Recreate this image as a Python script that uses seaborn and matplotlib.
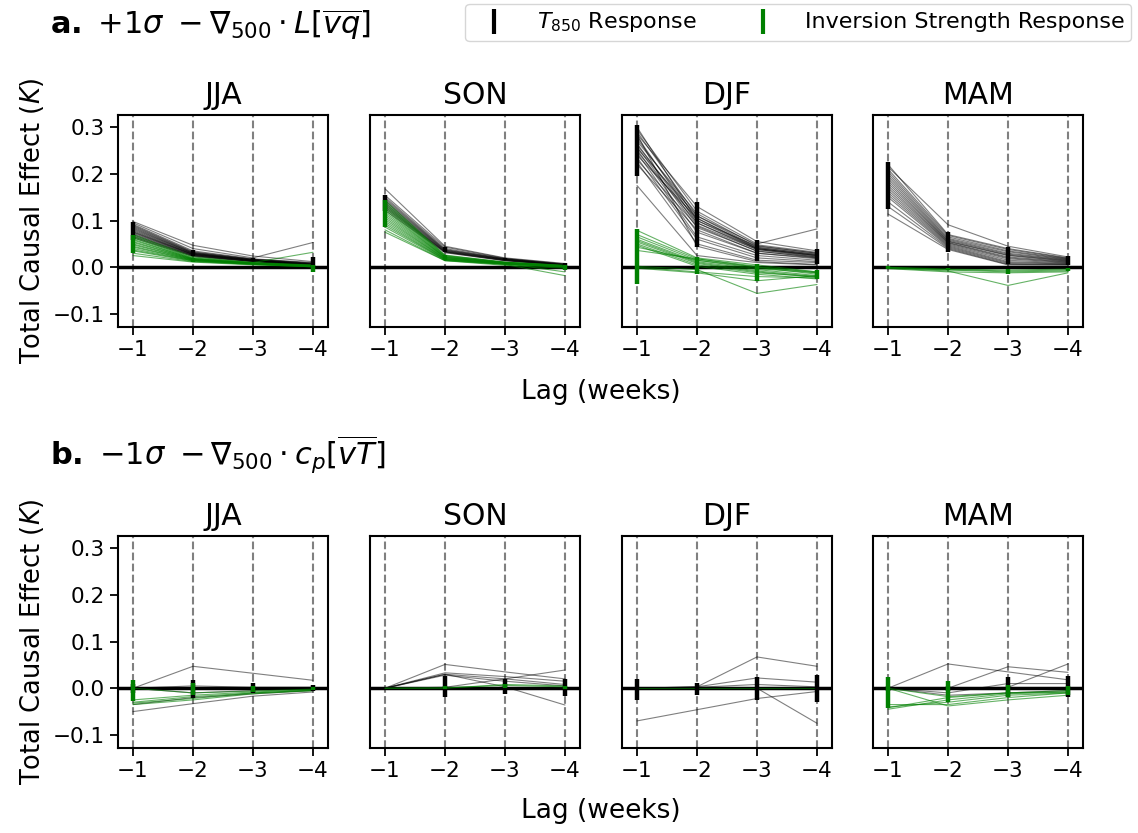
import pandas as pd
import matplotlib
matplotlib.use("Agg")
import matplotlib.pyplot as plt
from matplotlib.lines import Line2D
import seaborn as sns

lags = [-1, -2, -3, -4]
seasons = ["JJA", "SON", "DJF", "MAM"]

# ---- row a: +1 sigma moisture flux convergence ----
a_jja_t850 = [
    [0.098, 0.047, 0.024, 0.012], [0.095, 0.040, 0.020, 0.053],
    [0.092, 0.035, 0.018, 0.010], [0.090, 0.033, 0.017, 0.008],
    [0.088, 0.032, 0.017, 0.009], [0.086, 0.031, 0.016, 0.007],
    [0.084, 0.030, 0.016, 0.008], [0.082, 0.030, 0.015, 0.006],
    [0.080, 0.029, 0.015, 0.007], [0.078, 0.028, 0.015, 0.006],
    [0.076, 0.028, 0.014, 0.005], [0.075, 0.027, 0.014, 0.006],
    [0.073, 0.027, 0.014, 0.005], [0.071, 0.026, 0.013, 0.005],
    [0.069, 0.025, 0.013, 0.004], [0.067, 0.025, 0.012, 0.005],
    [0.065, 0.024, 0.012, 0.004], [0.063, 0.023, 0.012, 0.003],
]
a_jja_inv = [
    [0.070, 0.022, 0.010, 0.032], [0.066, 0.020, 0.010, 0.005],
    [0.063, 0.019, 0.009, 0.004], [0.060, 0.018, 0.009, 0.004],
    [0.058, 0.018, 0.009, 0.003], [0.055, 0.017, 0.008, 0.004],
    [0.053, 0.017, 0.008, 0.003], [0.050, 0.016, 0.008, 0.003],
    [0.048, 0.016, 0.008, 0.002], [0.045, 0.015, 0.007, 0.003],
    [0.043, 0.015, 0.007, 0.002], [0.040, 0.014, 0.007, 0.002],
    [0.037, 0.014, 0.007, 0.002], [0.035, 0.013, 0.006, 0.001],
    [0.030, 0.012, 0.006, 0.001], [0.025, 0.011, 0.005, 0.001],
]
a_jja_t850_err = ([0.058, 0.025, 0.013, 0.000], [0.097, 0.036, 0.020, 0.022])
a_jja_inv_err = ([0.030, 0.012, 0.006, -0.010], [0.070, 0.020, 0.009, 0.005])

a_son_t850 = [
    [0.168, 0.045, 0.020, 0.008], [0.154, 0.043, 0.019, 0.007],
    [0.150, 0.040, 0.018, 0.006], [0.147, 0.038, 0.018, 0.006],
    [0.144, 0.037, 0.017, 0.005], [0.141, 0.036, 0.017, 0.006],
    [0.138, 0.035, 0.016, 0.005], [0.135, 0.034, 0.016, 0.004],
    [0.132, 0.033, 0.015, 0.005], [0.129, 0.033, 0.015, 0.004],
    [0.126, 0.032, 0.014, 0.004], [0.122, 0.031, 0.014, 0.003],
]
a_son_inv = [
    [0.143, 0.026, 0.011, 0.004], [0.138, 0.025, 0.011, 0.003],
    [0.134, 0.024, 0.010, 0.004], [0.130, 0.023, 0.010, 0.003],
    [0.126, 0.022, 0.010, 0.002], [0.122, 0.021, 0.009, 0.003],
    [0.118, 0.021, 0.009, 0.002], [0.114, 0.020, 0.009, 0.002],
    [0.110, 0.019, 0.008, 0.001], [0.106, 0.018, 0.008, -0.010],
    [0.102, 0.018, 0.008, 0.002], [0.098, 0.017, 0.007, 0.001],
    [0.094, 0.016, 0.007, 0.000], [0.090, 0.016, 0.007, 0.001],
    [0.086, 0.015, 0.006, 0.000], [0.080, 0.014, 0.006, -0.018],
    [0.075, 0.014, 0.004, -0.002],
]
a_son_t850_err = ([0.120, 0.032, 0.016, 0.003], [0.154, 0.044, 0.020, 0.008])
a_son_inv_err = ([0.086, 0.015, 0.007, -0.005], [0.143, 0.026, 0.011, 0.005])

a_djf_t850 = [
    [0.300, 0.100, 0.045, 0.030], [0.295, 0.120, 0.050, 0.082],
    [0.290, 0.110, 0.048, 0.032], [0.285, 0.130, 0.055, 0.035],
    [0.280, 0.095, 0.040, 0.025], [0.275, 0.105, 0.042, 0.028],
    [0.270, 0.115, 0.046, 0.030], [0.265, 0.090, 0.038, 0.022],
    [0.262, 0.100, 0.040, 0.025], [0.258, 0.085, 0.035, 0.020],
    [0.255, 0.110, 0.043, 0.027], [0.252, 0.075, 0.030, 0.018],
    [0.248, 0.095, 0.038, 0.024], [0.245, 0.065, 0.025, 0.015],
    [0.240, 0.105, 0.040, 0.026], [0.235, 0.060, 0.020, 0.012],
    [0.230, 0.088, 0.034, 0.022], [0.225, 0.050, 0.015, 0.010],
    [0.220, 0.080, 0.030, 0.020], [0.175, 0.025, 0.010, 0.005],
    [0.285, 0.045, 0.012, 0.006],
]
a_djf_inv = [
    [0.079, 0.020, 0.005, -0.010], [0.070, 0.018, 0.002, -0.012],
    [0.065, 0.015, 0.000, -0.015], [0.060, 0.012, -0.005, -0.018],
    [0.057, 0.010, -0.008, -0.020], [0.054, 0.008, -0.010, -0.022],
    [0.050, 0.005, -0.012, -0.020], [0.047, 0.002, -0.015, -0.025],
    [0.043, 0.015, -0.003, -0.012], [0.036, 0.018, 0.000, -0.010],
    [0.002, -0.005, -0.056, -0.037], [0.000, -0.010, -0.020, -0.023],
    [-0.002, -0.012, -0.029, -0.018],
]
a_djf_t850_err = ([0.196, 0.043, 0.014, 0.007], [0.304, 0.139, 0.059, 0.039])
a_djf_inv_err = ([-0.036, -0.014, -0.029, -0.025], [0.082, 0.021, 0.007, -0.007])

a_mam_t850 = [
    [0.220, 0.070, 0.040, 0.020], [0.215, 0.091, 0.045, 0.022],
    [0.210, 0.068, 0.038, 0.019], [0.205, 0.065, 0.035, 0.018],
    [0.200, 0.062, 0.033, 0.017], [0.195, 0.060, 0.030, 0.016],
    [0.190, 0.058, 0.028, 0.015], [0.185, 0.056, 0.026, 0.014],
    [0.180, 0.055, 0.025, 0.013], [0.175, 0.053, 0.022, 0.012],
    [0.170, 0.052, 0.020, 0.011], [0.165, 0.050, 0.018, 0.010],
    [0.160, 0.048, 0.015, 0.009], [0.155, 0.046, 0.012, 0.008],
    [0.150, 0.044, 0.010, 0.007], [0.140, 0.042, 0.008, 0.006],
    [0.130, 0.040, 0.006, 0.005], [0.114, 0.038, 0.005, 0.005],
]
a_mam_inv = [
    [-0.001, -0.005, -0.008, -0.006], [-0.002, -0.008, -0.039, -0.012],
    [-0.001, -0.006, -0.010, -0.008], [-0.003, -0.010, -0.012, -0.010],
    [0.000, -0.004, -0.006, -0.004],
]
a_mam_t850_err = ([0.125, 0.032, 0.007, 0.004], [0.225, 0.075, 0.043, 0.023])
a_mam_inv_err = ([-0.004, -0.006, -0.014, -0.008], [0.002, -0.002, -0.004, -0.002])

# ---- row b: -1 sigma heat flux convergence ----
b_jja_t850 = [
    [0.000, 0.047, 0.032, 0.017], [-0.050, -0.033, -0.017, -0.008],
    [0.000, -0.010, -0.005, 0.000], [-0.035, -0.020, -0.012, -0.005],
    [0.000, 0.005, 0.002, 0.002],
]
b_jja_inv = [
    [-0.035, -0.025, -0.012, -0.005], [-0.032, -0.022, -0.010, -0.004],
    [-0.030, -0.018, -0.010, -0.005], [-0.025, -0.015, -0.008, -0.003],
    [0.000, -0.010, -0.006, -0.002],
]
b_jja_t850_err = ([-0.010, -0.021, -0.011, -0.005], [0.010, 0.018, 0.011, 0.006])
b_jja_inv_err = ([-0.028, -0.014, -0.008, -0.004], [0.017, 0.011, 0.004, 0.002])

b_son_t850 = [
    [0.000, 0.051, 0.035, 0.020], [0.000, 0.033, 0.025, 0.015],
    [0.000, 0.030, 0.020, 0.008], [0.000, 0.002, 0.020, 0.039],
    [0.000, 0.030, 0.003, -0.036], [0.000, 0.028, 0.015, 0.005],
]
b_son_inv = [[0.000, 0.000, 0.008, 0.005], [0.000, 0.001, 0.006, 0.003]]
b_son_t850_err = ([0.000, -0.019, -0.012, -0.016], [0.000, 0.026, 0.019, 0.019])
b_son_inv_err = ([0.000, -0.002, 0.000, -0.001], [0.000, 0.004, 0.008, 0.005])

b_djf_t850 = [
    [-0.070, -0.046, -0.022, -0.007], [0.000, 0.003, 0.067, 0.047],
    [0.000, 0.003, 0.022, 0.013], [0.000, 0.000, 0.000, -0.075],
    [0.000, 0.002, 0.008, 0.003],
]
b_djf_inv = [[0.000, 0.000, 0.000, 0.000]]
b_djf_t850_err = ([-0.025, -0.014, -0.025, -0.029], [0.019, 0.012, 0.024, 0.028])
b_djf_inv_err = ([0.000, 0.000, 0.000, 0.000], [0.000, 0.000, 0.000, 0.000])

b_mam_t850 = [
    [0.000, 0.052, 0.035, 0.018], [0.000, 0.000, 0.046, 0.034],
    [0.000, 0.000, 0.002, 0.052], [0.000, -0.010, 0.010, 0.010],
    [0.000, -0.015, -0.010, -0.005],
]
b_mam_inv = [
    [-0.040, -0.030, -0.015, -0.010], [-0.045, -0.025, -0.012, -0.008],
    [-0.035, -0.035, -0.020, -0.010], [0.000, -0.018, -0.010, -0.005],
    [-0.042, -0.020, -0.010, -0.008], [0.000, -0.038, -0.025, -0.015],
]
b_mam_t850_err = ([-0.005, -0.005, -0.018, -0.018], [0.005, 0.005, 0.025, 0.026])
b_mam_inv_err = ([-0.043, -0.029, -0.018, -0.014], [0.024, 0.016, 0.007, 0.004])

rows = [
    [(a_jja_t850, a_jja_inv, a_jja_t850_err, a_jja_inv_err),
     (a_son_t850, a_son_inv, a_son_t850_err, a_son_inv_err),
     (a_djf_t850, a_djf_inv, a_djf_t850_err, a_djf_inv_err),
     (a_mam_t850, a_mam_inv, a_mam_t850_err, a_mam_inv_err)],
    [(b_jja_t850, b_jja_inv, b_jja_t850_err, b_jja_inv_err),
     (b_son_t850, b_son_inv, b_son_t850_err, b_son_inv_err),
     (b_djf_t850, b_djf_inv, b_djf_t850_err, b_djf_inv_err),
     (b_mam_t850, b_mam_inv, b_mam_t850_err, b_mam_inv_err)],
]
row_titles = [
    r"$\mathbf{a.}$ $+1\sigma\ -\nabla_{500}\cdot L[\overline{vq}]$",
    r"$\mathbf{b.}$ $-1\sigma\ -\nabla_{500}\cdot c_p[\overline{vT}]$",
]


def to_long(members):
    recs = []
    for m, vals in enumerate(members):
        for lag, v in zip(lags, vals):
            recs.append({"member": m, "lag": lag, "value": v})
    return pd.DataFrame(recs)


sns.set_theme(style="ticks")
plt.rcParams["font.family"] = ["DejaVu Sans"]
plt.rcParams["mathtext.fontset"] = "dejavusans"
plt.rcParams["text.color"] = "black"
plt.rcParams["axes.labelcolor"] = "black"
plt.rcParams["xtick.color"] = "black"
plt.rcParams["ytick.color"] = "black"

fig = plt.figure(figsize=(11.38, 8.33), dpi=100)

W, H = 1138, 833
lefts = [118, 370, 622, 873]
tops = [115, 536]
aw, ah = 210, 212

for r, row in enumerate(rows):
    for c, (t850, inv, t_err, i_err) in enumerate(row):
        ax = fig.add_axes([lefts[c] / W, 1 - (tops[r] + ah) / H, aw / W, ah / H])
        for lag in lags:
            ax.axvline(lag, color="gray", ls="--", lw=1.5, zorder=1)
        ax.axhline(0, color="black", lw=2.5, zorder=2)

        sns.lineplot(data=to_long(t850), x="lag", y="value", units="member",
                     estimator=None, color="black", lw=0.8, alpha=0.5, ax=ax, zorder=3)
        sns.lineplot(data=to_long(inv), x="lag", y="value", units="member",
                     estimator=None, color="green", lw=0.8, alpha=0.6, ax=ax, zorder=4)

        ax.vlines(lags, t_err[0], t_err[1], color="black", lw=3.2, zorder=5)
        ax.vlines(lags, i_err[0], i_err[1], color="green", lw=3.2, zorder=6)

        ax.set_xlim(-0.75, -4.25)
        ax.set_ylim(-0.128, 0.326)
        ax.set_xticks(lags)
        ax.set_xticklabels([f"\u2212{abs(l)}" for l in lags])
        ax.set_xlabel("")
        ax.set_title(seasons[c], fontsize=21.5, pad=8, color="black")
        for s in ax.spines.values():
            s.set_linewidth(1.5)
            s.set_color("black")
        ax.tick_params(axis="both", labelsize=15.5, length=6, width=1.3, color="black")
        if c == 0:
            ax.set_yticks([-0.1, 0.0, 0.1, 0.2, 0.3])
            ax.set_yticklabels(["\u22120.1", "0.0", "0.1", "0.2", "0.3"])
            ax.set_ylabel("Total Causal Effect ($K$)", fontsize=18.5, labelpad=5)
        else:
            ax.set_yticks([])
            ax.set_ylabel("")

fig.text(50 / W, 1 - 25 / H, row_titles[0], fontsize=22, va="center", ha="left")
fig.text(50 / W, 1 - 455 / H, row_titles[1], fontsize=22, va="center", ha="left")
fig.text(601 / W, 1 - 392 / H, "Lag (weeks)", fontsize=19, ha="center", va="center")
fig.text(601 / W, 1 - 811 / H, "Lag (weeks)", fontsize=19, ha="center", va="center")

handles = [
    Line2D([], [], color="black", marker="|", ls="None", markersize=18, markeredgewidth=3),
    Line2D([], [], color="green", marker="|", ls="None", markersize=18, markeredgewidth=3),
]
fig.legend(handles, [r"$T_{850}$ Response", "Inversion Strength Response"],
           loc="upper right", bbox_to_anchor=(1.004, 1.009), ncol=2, fontsize=16,
           frameon=True, edgecolor="#cccccc", handletextpad=0.9, columnspacing=2.0,
           borderpad=0.3)

fig.savefig("out.png", dpi=100)
plt.close(fig)
